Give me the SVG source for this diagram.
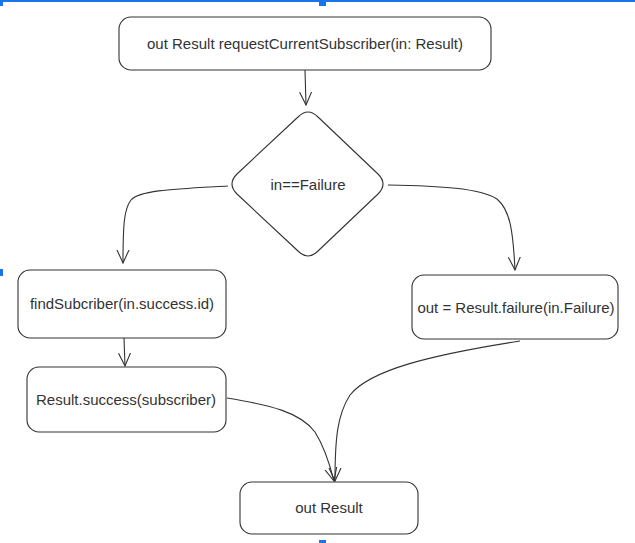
<svg xmlns="http://www.w3.org/2000/svg" width="635" height="543" viewBox="0 0 635 543">
<defs>
<style>
.box{fill:#fff;stroke:#333;stroke-width:1.1}
.lbl{font-family:"Liberation Sans",Arial,sans-serif;font-size:15px;fill:#333;text-anchor:middle;dominant-baseline:central}
.edge{fill:none;stroke:#333;stroke-width:1.1}
.sel{fill:#1a73e8}
</style>
<marker id="arr" markerUnits="userSpaceOnUse" viewBox="0 0 14 14" refX="13" refY="7" markerWidth="14" markerHeight="14" orient="auto">
<path d="M0,1 L13,7 L0,13" fill="none" stroke="#333" stroke-width="1.1"/>
</marker>
</defs>
<rect width="635" height="543" fill="#fff"/>
<g id="selection">
<rect class="sel" x="3" y="0" width="632" height="2"/>
<rect class="sel" x="0" y="0" width="3" height="6"/>
<rect class="sel" x="319" y="0" width="7" height="6"/>
<rect class="sel" x="0" y="269" width="3" height="7"/>
<rect class="sel" x="319" y="540" width="7" height="3"/>
</g>
<g id="connectors">
<path class="edge" d="M305,70 L306,105" marker-end="url(#arr)"/>
<path class="edge" d="M228,186 C175,189 140,190 131,200 C124,209 123,225 123,263" marker-end="url(#arr)"/>
<path class="edge" d="M388,185 C440,186 480,188 497,199 C510,210 513,230 515,270" marker-end="url(#arr)"/>
<path class="edge" d="M124,338 L125,366" marker-end="url(#arr)"/>
<path class="edge" d="M520,341 C430,355 370,370 350,395 C337,415 335,440 335,481" marker-end="url(#arr)"/>
<path class="edge" d="M227,398 C270,405 300,412 315,432 C325,448 330,465 334,481" marker-end="url(#arr)"/>
</g>
<g id="start">
<rect class="box" x="119" y="17" width="372" height="53" rx="12"/>
<text class="lbl" x="305" y="43">out Result requestCurrentSubscriber(in: Result)</text>
</g>
<g id="decision">
<path class="box" d="M318,117 L378,174 Q388,184 378,194 L318,251 Q308,261 298,251 L237,194 Q227,184 237,174 L298,117 Q308,107 318,117 Z"/>
<text class="lbl" x="308" y="184">in==Failure</text>
</g>
<g id="find">
<rect class="box" x="18" y="270" width="208" height="68" rx="12"/>
<text class="lbl" x="122" y="303">findSubcriber(in.success.id)</text>
</g>
<g id="success">
<rect class="box" x="27" y="367" width="199" height="65" rx="12"/>
<text class="lbl" x="126" y="399">Result.success(subscriber)</text>
</g>
<g id="failure">
<rect class="box" x="412" y="275" width="206" height="64" rx="12"/>
<text class="lbl" x="516" y="307">out = Result.failure(in.Failure)</text>
</g>
<g id="end">
<rect class="box" x="240" y="482" width="178" height="52" rx="12"/>
<text class="lbl" x="329" y="507">out Result</text>
</g>
</svg>
